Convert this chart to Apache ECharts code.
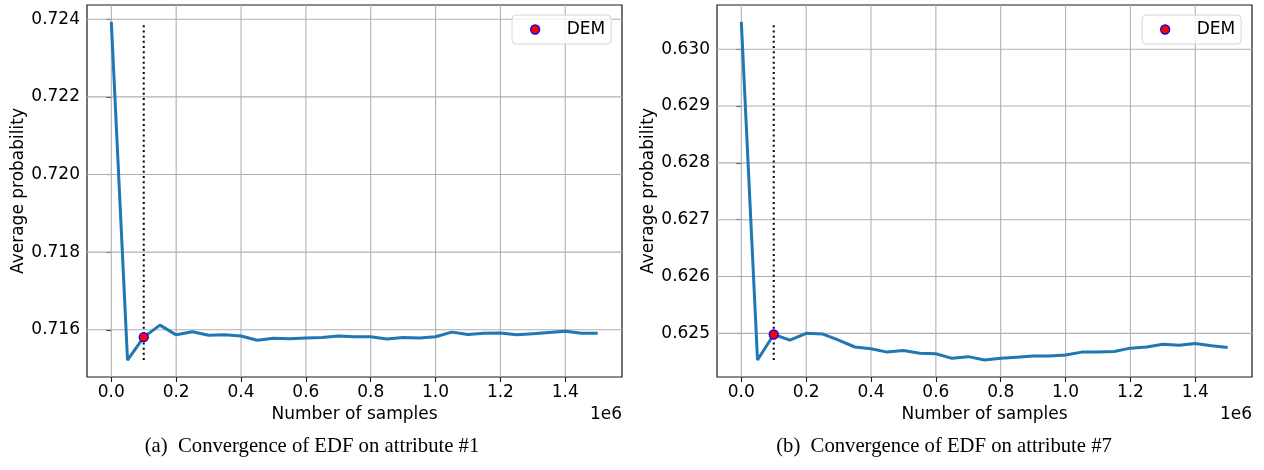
<!DOCTYPE html>
<html><head><meta charset="utf-8">
<script src="https://cdn.jsdelivr.net/npm/echarts@6/dist/echarts.min.js"></script>
<style>html,body{margin:0;padding:0;background:#fff}#c{width:1264px;height:470px}</style>
</head><body><div id="c"></div>
<script>
// Number of samples (in units of 1e6)
const samplesM = [0, 0.05, 0.1, 0.15, 0.2, 0.25, 0.3, 0.35, 0.4, 0.45, 0.5, 0.55, 0.6, 0.65, 0.7, 0.75,
  0.8, 0.85, 0.9, 0.95, 1.0, 1.05, 1.1, 1.15, 1.2, 1.25, 1.3, 1.35, 1.4, 1.45, 1.5];
// Average probability, attribute #1
const probAttr1 = [0.72393, 0.71522, 0.71581, 0.71612, 0.71587, 0.71595, 0.71586, 0.71587, 0.71584, 0.71573,
  0.71578, 0.71577, 0.71579, 0.71580, 0.71584, 0.71582, 0.71582, 0.71576, 0.71580, 0.71579, 0.71582,
  0.71594, 0.71588, 0.71591, 0.71592, 0.71587, 0.71590, 0.71593, 0.71596, 0.71591, 0.71591];
// Average probability, attribute #7
const probAttr7 = [0.63048, 0.62453, 0.62498, 0.62488, 0.62500, 0.62499, 0.62488, 0.62476, 0.62473, 0.62467,
  0.62470, 0.62465, 0.62464, 0.62456, 0.62459, 0.62453, 0.62456, 0.62458, 0.62460, 0.62460, 0.62462,
  0.62467, 0.62467, 0.62468, 0.62474, 0.62476, 0.62481, 0.62479, 0.62482, 0.62478, 0.62475];
// DEM points
const demX = 0.1;
const demAttr1 = 0.71581;
const demAttr7 = 0.62498;
// Tick labels
const xTicks = [0, 0.2, 0.4, 0.6, 0.8, 1.0, 1.2, 1.4];
const yTicksAttr1 = [0.716, 0.718, 0.720, 0.722, 0.724];
const yTicksAttr7 = [0.625, 0.626, 0.627, 0.628, 0.629, 0.630];
const captions = ['(a)  Convergence of EDF on attribute #1', '(b)  Convergence of EDF on attribute #7'];
const xName = 'Number of samples';
const yName = 'Average probability';
const offsetText = '1e6';
const legendName = 'DEM';

const FONT = 'DejaVu Sans';
const XMIN = -0.075, XMAX = 1.575;
const chart = echarts.init(document.getElementById('c'), null, {renderer: 'canvas'});

const panels = [
  {grid: {left: 87, top: 5, width: 535, height: 372}, y: probAttr1, dem: demAttr1, yTicks: yTicksAttr1,
   ymin: 0.714784, ymax: 0.724366, legendLeft: 512, capX: 312},
  {grid: {left: 717, top: 5, width: 535, height: 372}, y: probAttr7, dem: demAttr7, yTicks: yTicksAttr7,
   ymin: 0.624232, ymax: 0.630778, legendLeft: 1142, capX: 944}
];

const grids = [], xAxes = [], yAxes = [], series = [], legends = [], titles = [];
const gridLineStyle = {color: '#b0b0b0', width: 1.1};
panels.forEach((p, i) => {
  grids.push(Object.assign({show: true, borderColor: '#1a1a1a', borderWidth: 1.2, backgroundColor: 'transparent'}, p.grid));
  xAxes.push({
    type: 'value', gridIndex: i, min: XMIN, max: XMAX,
    axisLine: {show: false}, splitLine: {show: false},
    axisTick: {show: true, length: 5, lineStyle: {color: '#1a1a1a', width: 1.1}, customValues: xTicks},
    axisLabel: {show: true, margin: 7, color: '#000', fontFamily: FONT, fontSize: 17,
      customValues: xTicks, formatter: v => v.toFixed(1)},
    name: xName, nameLocation: 'middle', nameGap: 28,
    nameTextStyle: {color: '#000', fontFamily: FONT, fontSize: 17, verticalAlign: 'top'}
  });
  yAxes.push({
    type: 'value', gridIndex: i, min: p.ymin, max: p.ymax,
    axisLine: {show: false}, splitLine: {show: false},
    axisTick: {show: true, length: 5, lineStyle: {color: '#1a1a1a', width: 1.1}, customValues: p.yTicks},
    axisLabel: {show: true, margin: 7, color: '#000', fontFamily: FONT, fontSize: 17,
      customValues: p.yTicks, formatter: v => v.toFixed(3)},
    name: yName, nameLocation: 'middle', nameGap: 58, nameRotate: 90,
    nameTextStyle: {color: '#000', fontFamily: FONT, fontSize: 17}
  });
  // grid lines (drawn as plain line series through the axes)
  xTicks.forEach(v => series.push({
    type: 'line', xAxisIndex: i, yAxisIndex: i, data: [[v, p.ymin], [v, p.ymax]], symbol: 'none',
    silent: true, z: 1, lineStyle: gridLineStyle, animation: false, name: 'gx' + i + '_' + v
  }));
  p.yTicks.forEach(v => series.push({
    type: 'line', xAxisIndex: i, yAxisIndex: i, data: [[XMIN, v], [XMAX, v]], symbol: 'none',
    silent: true, z: 1, lineStyle: gridLineStyle, animation: false, name: 'gy' + i + '_' + v
  }));
  const xy = samplesM.map((x, k) => [x, p.y[k]]);
  // main curve
  series.push({
    type: 'line', xAxisIndex: i, yAxisIndex: i, data: xy, symbol: 'none', z: 3, name: 'curve' + i,
    lineStyle: {color: '#1f77b4', width: 3}, animation: false
  });
  // dotted vertical line
  const lo = Math.min.apply(null, p.y), hi = Math.max.apply(null, p.y);
  series.push({
    type: 'line', xAxisIndex: i, yAxisIndex: i, data: [[demX, lo], [demX, hi]], symbol: 'none', z: 4,
    name: 'vline' + i, lineStyle: {color: '#000', width: 2, type: [2, 3.2]}, animation: false
  });
  // DEM point
  series.push({
    type: 'scatter', xAxisIndex: i, yAxisIndex: i, data: [[demX, p.dem]], name: legendName, z: 5,
    symbol: 'circle', symbolSize: 9,
    itemStyle: {color: '#ff0000', borderColor: '#0000ff', borderWidth: 1.3, opacity: 1}, animation: false
  });
  legends.push({
    left: p.legendLeft, top: 15, orient: 'horizontal', padding: [6, 6, 6, 18],
    data: [{name: legendName, icon: 'circle'}], itemWidth: 9, itemHeight: 9,
    backgroundColor: 'rgba(255,255,255,0.8)', borderColor: '#d6d6d6', borderWidth: 1, borderRadius: 4,
    selectedMode: false,
    itemStyle: {color: '#ff0000', borderColor: '#0000ff', borderWidth: 1.3},
    formatter: '{a|{name}}',
    textStyle: {color: '#000', fontFamily: FONT, fontSize: 17,
      rich: {a: {color: '#000', fontFamily: FONT, fontSize: 17, padding: [0, 0, 0, 22]}}}
  });
  titles.push({
    text: offsetText, left: p.grid.left + p.grid.width, top: 406, textAlign: 'right', padding: 0,
    textStyle: {color: '#000', fontFamily: FONT, fontSize: 17, fontWeight: 'normal'}
  });
  titles.push({
    text: captions[i], left: p.capX, top: 436, textAlign: 'center', padding: 0,
    textStyle: {color: '#000', fontFamily: 'Liberation Serif', fontSize: 20.7, fontWeight: 'normal'}
  });
});

chart.setOption({
  animation: false,
  backgroundColor: '#fff',
  title: titles,
  legend: legends,
  grid: grids,
  xAxis: xAxes,
  yAxis: yAxes,
  series: series
});
</script>
</body></html>
